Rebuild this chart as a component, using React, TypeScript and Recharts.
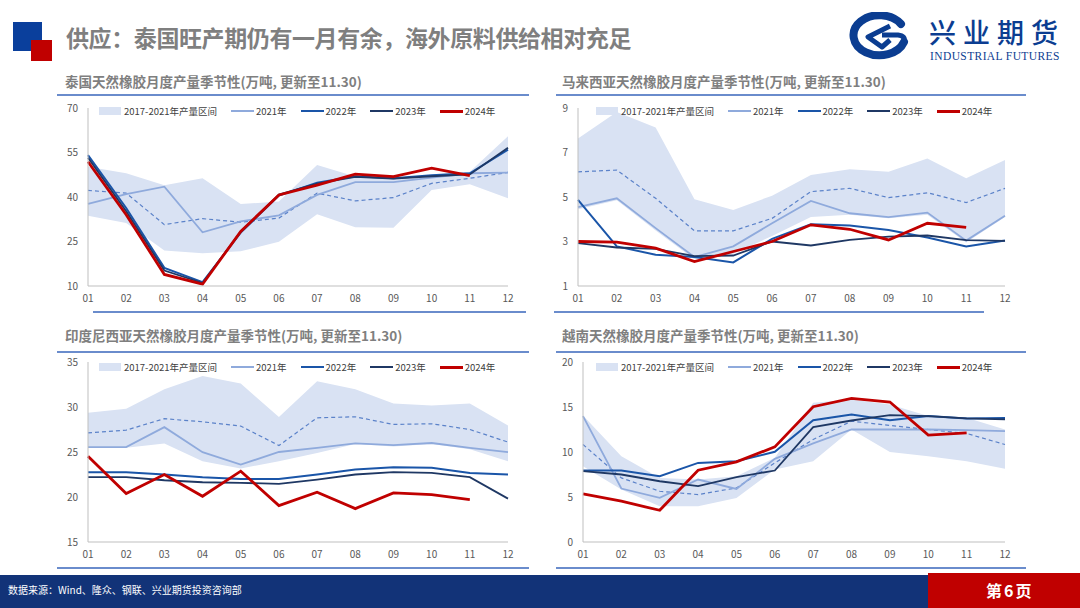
import { Area, ComposedChart, Line, XAxis, YAxis } from "recharts";

const MONTHS = ["01", "02", "03", "04", "05", "06", "07", "08", "09", "10", "11", "12"];

// 泰国
const TH_LOW = [33.7, 31.2, 22, 21, 21.7, 24.9, 34.2, 29.8, 29.6, 42.4, 44.3, 39.6];
const TH_HIGH = [50.2, 48, 44, 46.3, 37.6, 38.5, 50.8, 46.9, 46.5, 47.5, 48.5, 60.5];
const TH_AVG = [42.2, 41.3, 30.7, 32.7, 31.5, 32.9, 41.3, 38.7, 39.8, 44.6, 46.3, 48.3];
const TH_2021 = [37.7, 41, 43.5, 28.1, 31.8, 33.8, 40.7, 45, 45, 46.5, 48, 48.2];
const TH_2022 = [54.1, 36.3, 16.1, 11.3, 28, 40.5, 44.8, 47, 46.3, 47.3, 48, 56];
const TH_2023 = [53.2, 35.2, 15.2, 11, 28.3, 40.8, 44.5, 46.8, 46.2, 47, 47.6, 56.6];
const TH_2024 = [51.9, 34, 13.9, 10.6, 28.4, 40.7, 44, 47.7, 46.9, 49.7, 47.2, null];
const TH_TICKS = [10, 25, 40, 55, 70];

// 马来西亚
const MY_LOW = [4.45, 4.85, 3.5, 2.2, 2.45, 3.25, 4.1, 4.2, 4.05, 4.2, 2.95, 4.1];
const MY_HIGH = [7.63, 8.82, 8.12, 4.9, 4.42, 5.06, 5.99, 6.25, 6.13, 6.73, 5.84, 6.66];
const MY_AVG = [6.13, 6.21, 4.94, 3.48, 3.48, 4.04, 5.24, 5.39, 4.97, 5.19, 4.75, 5.39];
const MY_2021 = [4.54, 4.94, 3.6, 2.3, 2.78, 3.82, 4.82, 4.27, 4.1, 4.3, 3.04, 4.16];
const MY_2022 = [4.87, 2.78, 2.4, 2.3, 2.06, 3.12, 3.78, 3.72, 3.52, 3.18, 2.78, 3.04];
const MY_2023 = [2.93, 2.73, 2.67, 2.34, 2.37, 3.0, 2.82, 3.07, 3.22, 3.27, 3.06, 3.03];
const MY_2024 = [3.0, 2.97, 2.7, 2.1, 2.55, 3.0, 3.75, 3.55, 3.07, 3.82, 3.63, null];
const MY_TICKS = [1, 3, 5, 7, 9];

// 印度尼西亚
const ID_LOW = [25.46, 25.46, 25.95, 23.98, 23.16, 23.98, 24.9, 25.9, 25.6, 25.9, 25.3, 23.98];
const ID_HIGH = [29.36, 29.8, 31.96, 33.44, 32.6, 28.9, 32.85, 31.96, 30.4, 30.18, 30.4, 27.95];
const ID_AVG = [27.13, 27.43, 28.7, 28.36, 27.88, 25.72, 28.8, 28.91, 28.06, 28.14, 27.5, 26.1];
const ID_2021 = [25.54, 25.54, 27.76, 24.98, 23.6, 25.0, 25.46, 25.95, 25.76, 26.0, 25.46, 24.98];
const ID_2022 = [22.76, 22.76, 22.5, 22.2, 22.0, 22.0, 22.5, 23.05, 23.3, 23.24, 22.68, 22.5];
const ID_2023 = [22.2, 22.2, 21.86, 21.64, 21.57, 21.46, 21.94, 22.5, 22.76, 22.68, 22.2, 19.82];
const ID_2024 = [24.54, 20.38, 22.5, 20.08, 22.87, 19.05, 20.53, 18.71, 20.45, 20.27, 19.71, null];
const ID_TICKS = [15, 20, 25, 30, 35];

// 越南
const VN_LOW = [8.42, 5.83, 3.97, 3.97, 4.9, 8.05, 8.98, 12.5, 10.0, 9.54, 8.98, 8.13];
const VN_HIGH = [14.06, 9.54, 7.12, 6.94, 7.3, 9.35, 15.47, 15.84, 15.29, 14.0, 13.8, 12.5];
const VN_AVG = [10.83, 7.12, 5.64, 5.27, 6.01, 8.79, 11.39, 13.43, 12.95, 12.5, 12.06, 10.83];
const VN_2021 = [13.99, 5.94, 4.9, 6.94, 5.9, 9.24, 10.95, 12.5, 12.5, 12.5, 12.43, 12.32];
const VN_2022 = [7.94, 7.94, 7.31, 8.79, 8.98, 10.02, 13.54, 14.17, 13.54, 13.99, 13.73, 13.77];
const VN_2023 = [7.87, 7.5, 6.75, 6.2, 7.2, 7.94, 12.76, 13.5, 14.1, 13.99, 13.73, 13.62];
const VN_2024 = [5.34, 4.53, 3.52, 7.98, 8.9, 10.57, 15.03, 15.96, 15.55, 11.87, 12.13, null];
const VN_TICKS = [0, 5, 10, 15, 20];

const LEGEND_NAMES = ["2017-2021年产量区间", "2021年", "2022年", "2023年", "2024年"];

const FONT = "'Noto Sans CJK SC', 'Noto Sans', sans-serif";
const BAND = "#d9e2f3";
const C2021 = "#8faadc";
const C2022 = "#1a55a8";
const C2023 = "#1f3864";
const C2024 = "#c00000";
const CAVG = "#5b82c9";
const AXIS = "#bfbfbf";
const TEXT_GRAY = "#7f7f7f";
const RULE = "#6a8ccc";
const LOGO_BLUE = "#0b3d91";

const buildRows = (low, high, avg, a, b, c, d) =>
  MONTHS.map((m, i) => ({
    month: m,
    range: [low[i], high[i]],
    avg: avg[i],
    y2021: a[i],
    y2022: b[i],
    y2023: c[i],
    y2024: d[i],
  }));

const TH_ROWS = buildRows(TH_LOW, TH_HIGH, TH_AVG, TH_2021, TH_2022, TH_2023, TH_2024);
const MY_ROWS = buildRows(MY_LOW, MY_HIGH, MY_AVG, MY_2021, MY_2022, MY_2023, MY_2024);
const ID_ROWS = buildRows(ID_LOW, ID_HIGH, ID_AVG, ID_2021, ID_2022, ID_2023, ID_2024);
const VN_ROWS = buildRows(VN_LOW, VN_HIGH, VN_AVG, VN_2021, VN_2022, VN_2023, VN_2024);

const SeasonChart = ({ rows, ticks, left, top, width, height }) => (
  <div style={{ position: "absolute", left, top }}>
    <ComposedChart width={width} height={height} data={rows} margin={{ top: 8, right: 20, left: 0, bottom: 0 }}>
      <XAxis
        dataKey="month"
        scale="point"
        interval={0}
        height={24}
        axisLine={{ stroke: AXIS }}
        tickLine={false}
        tickMargin={3}
        tick={{ fill: "#595959", fontSize: 10, fontFamily: FONT }}
      />
      <YAxis
        type="number"
        domain={[ticks[0], ticks[ticks.length - 1]]}
        ticks={ticks}
        width={33}
        axisLine={{ stroke: AXIS }}
        tickLine={false}
        tickMargin={4}
        tick={{ fill: "#595959", fontSize: 10, fontFamily: FONT }}
      />
      <Area type="linear" dataKey="range" stroke="none" fill={BAND} fillOpacity={1} isAnimationActive={false} activeDot={false} />
      <Line type="linear" dataKey="avg" stroke={CAVG} strokeWidth={1.2} strokeDasharray="4 3" dot={false} activeDot={false} isAnimationActive={false} />
      <Line type="linear" dataKey="y2021" stroke={C2021} strokeWidth={1.8} dot={false} activeDot={false} isAnimationActive={false} />
      <Line type="linear" dataKey="y2022" stroke={C2022} strokeWidth={2} dot={false} activeDot={false} isAnimationActive={false} />
      <Line type="linear" dataKey="y2023" stroke={C2023} strokeWidth={1.8} dot={false} activeDot={false} isAnimationActive={false} />
      <Line type="linear" dataKey="y2024" stroke={C2024} strokeWidth={2.8} dot={false} activeDot={false} isAnimationActive={false} connectNulls={false} />
    </ComposedChart>
  </div>
);

const SWATCHES = [
  { kind: "band", color: BAND, w: 0 },
  { kind: "line", color: C2021, w: 1.8 },
  { kind: "line", color: C2022, w: 2 },
  { kind: "line", color: C2023, w: 1.8 },
  { kind: "line", color: C2024, w: 3 },
];

const LegendRow = ({ left, top }) => (
  <div style={{ position: "absolute", left, top, display: "flex", alignItems: "center", height: 12, fontFamily: FONT, fontSize: 9.5, color: "#404040", whiteSpace: "nowrap" }}>
    {LEGEND_NAMES.map((name, i) => (
      <div key={name} style={{ display: "flex", alignItems: "center", marginRight: 14 }}>
        {SWATCHES[i].kind === "band" ? (
          <div style={{ width: 22, height: 8, background: BAND, marginRight: 3 }} />
        ) : (
          <div style={{ width: 23, height: SWATCHES[i].w, background: SWATCHES[i].color, marginRight: 2 }} />
        )}
        <span>{name}</span>
      </div>
    ))}
  </div>
);

const Rule = ({ left, top, width }) => (
  <div style={{ position: "absolute", left, top, width, height: 1.5, background: RULE }} />
);

const PanelTitle = ({ left, top, text }) => (
  <div style={{ position: "absolute", left, top, fontFamily: FONT, fontSize: 13.5, fontWeight: 700, color: TEXT_GRAY, lineHeight: "20px", whiteSpace: "nowrap" }}>
    {text}
  </div>
);

const Logo = () => (
  <div style={{ position: "absolute", left: 846, top: 12 }}>
    <svg width={64} height={50} viewBox="0 0 64 50">
      <path d="M 55 12 A 26 20 0 1 0 58 30" fill="none" stroke={LOGO_BLUE} strokeWidth={8} strokeLinecap="round" />
      <path d="M 58 30 Q 60 24 52 23 L 36 23" fill="none" stroke={LOGO_BLUE} strokeWidth={5} />
      <path d="M 44 14 L 22 25 L 36 35 L 44 28" fill="none" stroke={LOGO_BLUE} strokeWidth={5} strokeLinejoin="round" />
    </svg>
  </div>
);

export default function App() {
  return (
    <div style={{ position: "absolute", left: 0, top: 0, width: 1080, height: 608, background: "#ffffff", overflow: "hidden", fontFamily: FONT }}>
      {/* header */}
      <div style={{ position: "absolute", left: 13, top: 22, width: 29, height: 29, background: "#0a3f9c" }} />
      <div style={{ position: "absolute", left: 31, top: 40, width: 21, height: 21, background: "#c00000" }} />
      <div style={{ position: "absolute", left: 66, top: 23, fontSize: 23, fontWeight: 700, color: TEXT_GRAY, lineHeight: "28px", letterSpacing: -0.4, whiteSpace: "nowrap" }}>
        供应：泰国旺产期仍有一月有余，海外原料供给相对充足
      </div>
      <Logo />
      <div style={{ position: "absolute", left: 929, top: 18, fontSize: 27, fontWeight: 500, color: LOGO_BLUE, lineHeight: "27px", letterSpacing: 7, whiteSpace: "nowrap" }}>
        兴业期货
      </div>
      <div style={{ position: "absolute", left: 930, top: 50, fontFamily: "'Liberation Serif', serif", fontSize: 11.5, color: LOGO_BLUE, lineHeight: "12px", letterSpacing: 0.4, whiteSpace: "nowrap" }}>
        INDUSTRIAL FUTURES
      </div>

      {/* panel titles and rules */}
      <PanelTitle left={65} top={71} text="泰国天然橡胶月度产量季节性(万吨, 更新至11.30)" />
      <PanelTitle left={562} top={71} text="马来西亚天然橡胶月度产量季节性(万吨, 更新至11.30)" />
      <PanelTitle left={65} top={325} text="印度尼西亚天然橡胶月度产量季节性(万吨, 更新至11.30)" />
      <PanelTitle left={562} top={325} text="越南天然橡胶月度产量季节性(万吨, 更新至11.30)" />
      <Rule left={57} top={94} width={472} />
      <Rule left={556} top={94} width={470} />
      <Rule left={57} top={351} width={472} />
      <Rule left={556} top={351} width={470} />
      <Rule left={93} top={311} width={433} />
      <Rule left={554} top={311} width={430} />
      <Rule left={57} top={567} width={472} />
      <Rule left={556} top={567} width={470} />

      {/* charts */}
      <SeasonChart rows={TH_ROWS} ticks={TH_TICKS} left={55} top={100} width={473} height={210} />
      <SeasonChart rows={MY_ROWS} ticks={MY_TICKS} left={545} top={100} width={480} height={210} />
      <SeasonChart rows={ID_ROWS} ticks={ID_TICKS} left={55} top={354} width={473} height={212} />
      <SeasonChart rows={VN_ROWS} ticks={VN_TICKS} left={550} top={354} width={475} height={212} />

      <LegendRow left={99} top={105} />
      <LegendRow left={596} top={105} />
      <LegendRow left={99} top={361} />
      <LegendRow left={596} top={361} />

      {/* footer */}
      <div style={{ position: "absolute", left: 0, top: 575, width: 928, height: 33, background: "#123378" }} />
      <div style={{ position: "absolute", left: 928, top: 573, width: 152, height: 35, background: "#c00000" }} />
      <div style={{ position: "absolute", left: 8, top: 582, fontSize: 10, color: "#ffffff", lineHeight: "16px", whiteSpace: "nowrap" }}>
        数据来源：Wind、隆众、钢联、兴业期货投资咨询部
      </div>
      <div style={{ position: "absolute", left: 986, top: 579, fontSize: 16, fontWeight: 700, color: "#ffffff", lineHeight: "22px", letterSpacing: 2, whiteSpace: "nowrap" }}>
        第6页
      </div>
    </div>
  );
}
